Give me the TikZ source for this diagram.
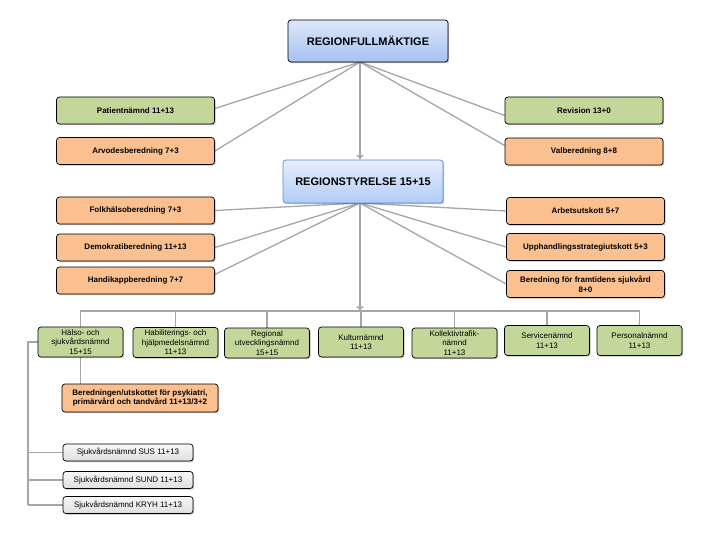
\documentclass[tikz,border=0pt]{standalone}
\usepackage{fontspec}
\setmainfont{Liberation Sans}
\usetikzlibrary{arrows.meta,shadows,backgrounds}
\definecolor{grn}{HTML}{C4D79B}
\definecolor{org}{HTML}{FAC090}
\definecolor{conn}{HTML}{A6A6A6}
\definecolor{blueA}{HTML}{DCE7FA}
\definecolor{blueB}{HTML}{A6C2F2}
\definecolor{blueC}{HTML}{E6EEFC}
\definecolor{blueD}{HTML}{B2CCF6}
\definecolor{blueE}{HTML}{5B8BD0}
\tikzset{
  boxbase/.style={draw=black, line width=0.7pt, rounded corners=3pt, align=center, inner sep=1pt,
    drop shadow={shadow xshift=1.2pt, shadow yshift=-1.2pt, fill=black, opacity=0.25}},
  sidebox/.style={boxbase, minimum width=158pt, minimum height=27pt, font=\fontsize{8}{9.5}\selectfont\bfseries},
  gside/.style={sidebox, fill=grn},
  oside/.style={sidebox, fill=org},
  lowbox/.style={boxbase, fill=grn, minimum width=85pt, minimum height=30pt, font=\fontsize{8}{9.6}\selectfont},
  graybox/.style={boxbase, top color=gray!6, bottom color=gray!25, minimum width=130pt, minimum height=17pt, font=\fontsize{8}{9.5}\selectfont},
  conline/.style={draw=conn, line width=1.3pt},
  conarrow/.style={conline, -{To[length=5pt,width=7pt]}},
}
\begin{document}
\begin{tikzpicture}[x=1pt,y=-1pt]
\useasboundingbox (0,0) rectangle (720,540);

% top level
\node[boxbase, top color=blueA, bottom color=blueB, minimum width=160pt, minimum height=42pt,
  font=\fontsize{11}{13}\selectfont\bfseries] (RF) at (368,41) {REGIONFULLMÄKTIGE};
\node[gside] (Pat) at (135.5,110.5) {Patientnämnd 11+13};
\node[oside] (Arv) at (135.5,151) {Arvodesberedning 7+3};
\node[gside] (Rev) at (584,110.5) {Revision 13+0};
\node[oside] (Val) at (584,151.5) {Valberedning 8+8};

\node[boxbase, draw=blueE, top color=blueC, bottom color=blueD, minimum width=160pt, minimum height=43pt,
  font=\fontsize{11}{13}\selectfont\bfseries] (RS) at (363,181.5) {REGIONSTYRELSE 15+15};

\node[oside] (Folk) at (135.5,210.5) {Folkhälsoberedning 7+3};
\node[oside] (Demo) at (135.5,247.5) {Demokratiberedning 11+13};
\node[oside] (Handi) at (135.5,280.5) {Handikappberedning 7+7};
\node[oside] (Arb) at (585.5,211) {Arbetsutskott 5+7};
\node[oside] (Upp) at (585.5,247) {Upphandlingsstrategiutskott 5+3};
\node[oside] (Ber) at (585.5,284) {Beredning för framtidens sjukvård\\8+0};

% bottom row
\node[lowbox] (H1) at (80.5,342) {Hälso- och\\sjukvårdsnämnd\\15+15};
\node[lowbox] (H2) at (175.5,342.5) {Habiliterings- och\\hjälpmedelsnämnd\\11+13};
\node[lowbox] (H3) at (267,343) {Regional\\utvecklingsnämnd\\15+15};
\node[lowbox] (H4) at (361,342) {Kulturnämnd\\11+13};
\node[lowbox] (H5) at (454.5,343) {Kollektivtrafik-\\nämnd\\11+13};
\node[lowbox] (H6) at (547,340.5) {Servicenämnd\\11+13};
\node[lowbox] (H7) at (639.5,340.5) {Personalnämnd\\11+13};

\node[boxbase, fill=org, minimum width=156pt, minimum height=28pt, font=\fontsize{8}{9.6}\selectfont\bfseries]
  (BU) at (140,398) {Beredningen/utskottet för psykiatri,\\primärvård och tandvård 11+13/3+2};

\node[graybox] (SUS) at (128,452.5) {Sjukvårdsnämnd SUS 11+13};
\node[graybox] (SUND) at (128,480) {Sjukvårdsnämnd SUND 11+13};
\node[graybox] (KRYH) at (128,505) {Sjukvårdsnämnd KRYH 11+13};

% hubs
\coordinate (hubA) at (360,62);
\coordinate (hubB) at (360,203);
\coordinate (barL) at (80,311);
\coordinate (barR) at (640,311);
\coordinate (spine) at (28,505);

\begin{scope}[on background layer]
\draw[conline] (hubA) -- ([yshift=2pt]Pat.east);
\draw[conline] (hubA) -- (Arv.east);
\draw[conline] (hubA) -- ([yshift=-5pt]Rev.west);
\draw[conline] (hubA) -- ([yshift=6pt]Val.west);
\draw[conarrow] (hubA) -- (RS.north -| hubA);

\draw[conline] (hubB) -- (Folk.east);
\draw[conline] (hubB) -- (Demo.east);
\draw[conline] (hubB) -- ([yshift=6pt]Handi.east);
\draw[conline] (hubB) -- (Arb.west);
\draw[conline] (hubB) -- (Upp.west);
\draw[conline] (hubB) -- (Ber.west);
\draw[conarrow] (hubB) -- (barL -| hubB);

\draw[conline] (barL) -- (barR);
\foreach \n in {H1,H2,H3,H4,H5,H6,H7}
  \draw[conline] (\n.north) -- (\n.north |- barL);

\draw[conline] (H1.south) -- (BU.north -| H1.south);
\draw[conline] (H1.west) -| (spine);
\draw[conline] (SUS.west) -- (SUS.west -| spine);
\draw[conline] (SUND.west) -- (SUND.west -| spine);
\draw[conline] (KRYH.west) -- (spine);
\end{scope}
\end{tikzpicture}
\end{document}
